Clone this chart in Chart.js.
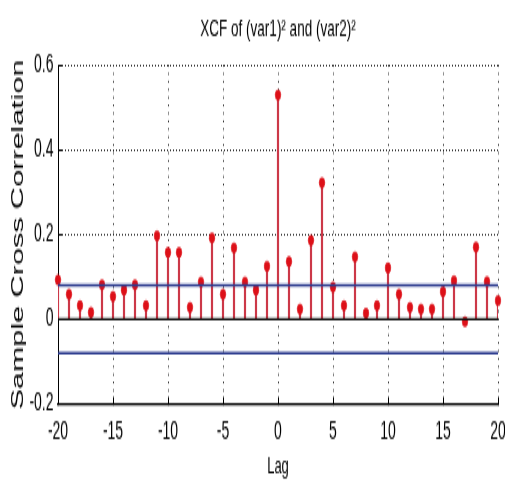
<!DOCTYPE html>
<html>
<head>
<meta charset="utf-8">
<script src="https://cdn.jsdelivr.net/npm/chart.js@4/dist/chart.umd.min.js"></script>
<style>
  body { margin: 0; background: #fff; }
  #wrap { width: 505px; height: 493px; overflow: hidden; }
  /* the original figure is stretched vertically, so draw flat and stretch */
  #c { width: 505px; height: 274px; transform-origin: 0 0; transform: scale(1, 1.7993); }
</style>
</head>
<body>
<div id="wrap"><canvas id="c" width="505" height="274"></canvas></div>
<script>
const lags = [-20, -19, -18, -17, -16, -15, -14, -13, -12, -11, -10, -9, -8, -7, -6, -5, -4, -3, -2, -1,
  0, 1, 2, 3, 4, 5, 6, 7, 8, 9, 10, 11, 12, 13, 14, 15, 16, 17, 18, 19, 20];
const xcf = [0.093, 0.059, 0.032, 0.016, 0.081, 0.054, 0.069, 0.081, 0.032, 0.197, 0.158,
  0.158, 0.028, 0.088, 0.192, 0.059, 0.168, 0.088, 0.069, 0.125, 0.529,
  0.136, 0.024, 0.186, 0.322, 0.076, 0.032, 0.147, 0.014, 0.032, 0.121,
  0.059, 0.028, 0.024, 0.024, 0.065, 0.091, -0.006, 0.170, 0.089, 0.044];
const boundLags = [-20, 20];
const upperBound = [0.08, 0.08];
const lowerBound = [-0.08, -0.08];
const zeroLine = [0, 0];
const xTicks = [-20, -15, -10, -5, 0, 5, 10, 15, 20];
const yTicks = [-0.2, 0, 0.2, 0.4, 0.6];
const yTickLabels = ['-0.2', '0', '0.2', '0.4', '0.6'];

const FONT = "'Liberation Sans', Arial, sans-serif";

const pts = function (xs, ys) {
  return xs.map((x, i) => ({ x: x, y: ys[i] }));
};

const ctx = document.getElementById('c').getContext('2d');
new Chart(ctx, {
  type: 'scatter',
  data: {
    datasets: [
      {
        type: 'bar',
        data: pts(lags, xcf),
        backgroundColor: '#cc3848',
        barThickness: 1.5,
        order: 4,
      },
      {
        type: 'scatter',
        data: pts(lags, xcf),
        pointRadius: 2.8,
        pointBackgroundColor: '#dd1018',
        pointBorderColor: '#dd1018',
        pointBorderWidth: 0.5,
        clip: false,
        order: 3,
      },
      {
        type: 'line',
        data: pts(boundLags, zeroLine),
        borderColor: '#111',
        borderWidth: 1.3,
        pointRadius: 0,
        order: 2,
      },
      {
        type: 'line',
        data: pts(boundLags, upperBound),
        borderColor: '#2b3a8e',
        borderWidth: 1.4,
        pointRadius: 0,
        order: 1,
      },
      {
        type: 'line',
        data: pts(boundLags, lowerBound),
        borderColor: '#2b3a8e',
        borderWidth: 1.4,
        pointRadius: 0,
        order: 1,
      },
    ],
  },
  options: {
    responsive: false,
    devicePixelRatio: 1,
    animation: false,
    layout: { padding: { left: 0, right: 7, top: 0, bottom: 0 } },
    plugins: {
      legend: { display: false },
      tooltip: { enabled: false },
      title: {
        display: true,
        fullSize: false,
        text: 'XCF of (var1)² and (var2)²',
        color: '#000',
        font: { family: FONT, size: 13.5, weight: 'normal' },
        padding: { top: 8.6, bottom: 11.3 },
      },
    },
    scales: {
      x: {
        type: 'linear',
        min: -20,
        max: 20,
        offset: false,
        afterBuildTicks: (s) => { s.ticks = xTicks.map((v) => ({ value: v })); },
        afterFit: (s) => {
          s.height = 49.5;
          s.paddingLeft = 0;
          s.paddingRight = 0;
        },
        grid: {
          offset: false,
          color: '#222',
          lineWidth: 1,
          tickLength: -4,
          tickColor: '#000',
        },
        border: { display: true, color: '#000', width: 1.2, dash: [1, 3.4] },
        ticks: {
          color: '#000',
          font: { family: FONT, size: 14 },
          padding: 11,
          maxRotation: 0,
        },
        title: {
          display: true,
          text: 'Lag',
          color: '#000',
          font: { family: FONT, size: 13 },
          padding: { top: 0, bottom: 6.5 },
        },
      },
      y: {
        type: 'linear',
        min: -0.2,
        max: 0.6,
        afterBuildTicks: (s) => { s.ticks = yTicks.map((v) => ({ value: v })); },
        afterFit: (s) => { s.width = 58; },
        grid: {
          color: '#222',
          lineWidth: 1,
          tickLength: -4,
          tickColor: '#000',
        },
        border: { display: true, color: '#000', width: 1, dash: [1, 2] },
        ticks: {
          color: '#000',
          font: { family: FONT, size: 14 },
          padding: 8.5,
          callback: (v) => yTickLabels[yTicks.indexOf(v)],
        },
        title: {
          display: true,
          text: 'Sample Cross Correlation',
          color: '#000',
          font: { family: FONT, size: 17 },
          padding: { top: 8.5, bottom: 0 },
        },
      },
    },
  },
});
</script>
</body>
</html>
